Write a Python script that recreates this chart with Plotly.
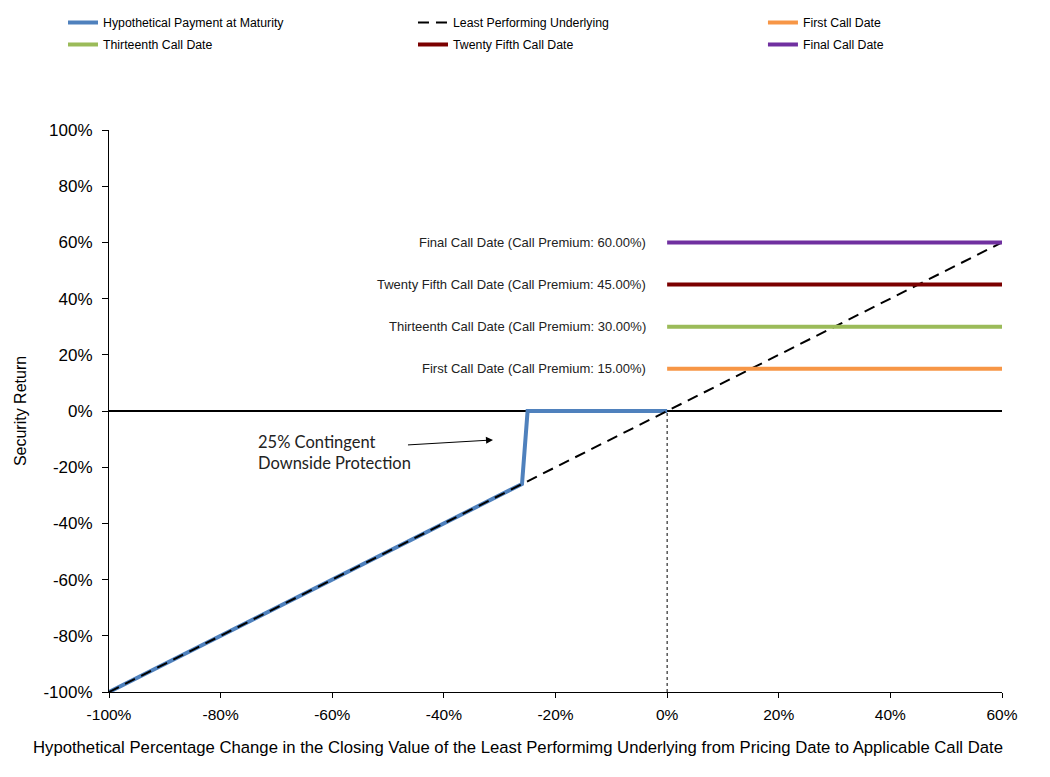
import plotly.graph_objects as go

# Data
pay_x = [-100, -26, -25, 0]
pay_y = [-100, -26, 0, 0]
under_x = [-100, 60]
under_y = [-100, 60]
call_names = ["First Call Date", "Thirteenth Call Date", "Twenty Fifth Call Date", "Final Call Date"]
call_premiums = [15, 30, 45, 60]
call_x = [0, 60]
call_colors = ["#F79646", "#9BBB59", "#7B0000", "#7030A0"]
x_ticks = [-100, -80, -60, -40, -20, 0, 20, 40, 60]
y_ticks = [-100, -80, -60, -40, -20, 0, 20, 40, 60, 80, 100]
x_title = ("Hypothetical Percentage Change in the Closing Value of the Least Performimg "
           "Underlying from Pricing Date to Applicable Call Date")

# legend slots: (legend id, x in container, y in container)
leg_pos = {
    "legend": (0.0524, 1.0),      # Hypothetical Payment
    "legend2": (0.3857, 1.0),     # Least Performing
    "legend3": (0.719, 1.0),      # First Call
    "legend4": (0.0524, 0.9717),  # Thirteenth
    "legend5": (0.3857, 0.9717),  # Twenty Fifth
    "legend6": (0.719, 0.9717),   # Final
}
call_legends = ["legend3", "legend4", "legend5", "legend6"]

fig = go.Figure()
fig.add_trace(go.Scatter(x=pay_x, y=pay_y, mode="lines", name="Hypothetical Payment at Maturity",
                         line=dict(color="#4F81BD", width=4), legend="legend"))
fig.add_trace(go.Scatter(x=under_x, y=under_y, mode="lines", name="Least Performing Underlying",
                         line=dict(color="black", width=2, dash="11px,7px"), legend="legend2"))
for n, p, c, lg in zip(call_names, call_premiums, call_colors, call_legends):
    fig.add_trace(go.Scatter(x=call_x, y=[p, p], mode="lines", name=n,
                             line=dict(color=c, width=4), legend=lg))
    fig.add_annotation(x=-3.5, y=p, xref="x", yref="y", xanchor="right", yanchor="middle",
                       text=f"{n} (Call Premium: {p:.2f}%)", showarrow=False,
                       font=dict(family="Liberation Sans, Arial", size=13, color="#222222"))

fig.add_shape(type="line", x0=0, x1=0, y0=-100, y1=0, xref="x", yref="y",
              line=dict(color="black", width=1, dash="dot"))

fig.add_annotation(x=-73.7, y=-14.6, xref="x", yref="y", xanchor="left", yanchor="middle", align="left",
                   text="25% Contingent<br>Downside Protection", showarrow=False,
                   font=dict(family="Lato, Carlito, sans-serif", size=16.5, color="#222222"))
fig.add_annotation(x=-31.2, y=-10.3, ax=-46.7, ay=-12.1, xref="x", yref="y", axref="x", ayref="y",
                   text="", showarrow=True, arrowhead=2, arrowsize=1.4, arrowwidth=1, arrowcolor="black")

# x-axis title centred on the chart area (as in the original)
fig.add_annotation(x=0.4579, y=-0.0979, xref="paper", yref="paper", xanchor="center", yanchor="middle",
                   text=x_title, showarrow=False,
                   font=dict(family="Liberation Sans, Arial", size=16.7, color="black"))

legend_font = dict(family="Liberation Sans, Arial", size=12.3, color="black")
legend_layout = {}
for lid, (lx, ly) in leg_pos.items():
    legend_layout[lid] = dict(orientation="h", x=lx, xref="container", y=ly, yref="container",
                              xanchor="left", yanchor="top", font=legend_font,
                              bgcolor="rgba(0,0,0,0)")

fig.update_layout(
    width=1050, height=777,
    margin=dict(l=92, r=56, t=122, b=93),
    plot_bgcolor="white", paper_bgcolor="white",
    font=dict(family="Liberation Sans, Arial", color="black"),
    showlegend=True,
    **legend_layout,
    xaxis=dict(range=[-100, 60], tickvals=x_ticks, ticktext=[f"{v}%" for v in x_ticks],
               showgrid=False, zeroline=False, showline=True, linecolor="black", linewidth=1,
               ticks="outside", ticklen=5, tickcolor="black", ticklabelstandoff=3,
               tickfont=dict(family="Liberation Sans, Arial", size=15.5)),
    yaxis=dict(range=[-100, 100], tickvals=y_ticks, ticktext=[f"{v}%" for v in y_ticks],
               showgrid=False, zeroline=True, zerolinecolor="black", zerolinewidth=2,
               showline=True, linecolor="black", linewidth=1,
               ticks="outside", ticklen=6, tickcolor="black", ticklabelstandoff=6,
               tickfont=dict(family="Liberation Sans, Arial", size=17),
               title=dict(text="Security Return", font=dict(family="Liberation Sans, Arial", size=16), standoff=12)),
)

fig.write_html("out.html")
